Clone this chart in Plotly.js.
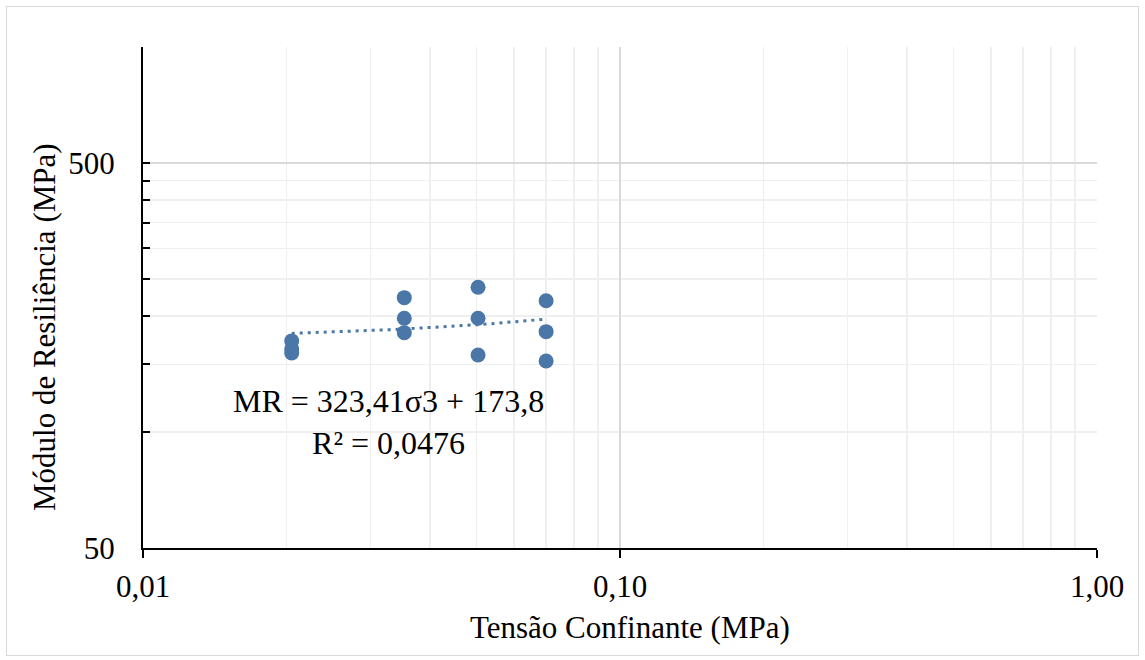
<!DOCTYPE html>
<html>
<head>
<meta charset="utf-8">
<script src="https://cdn.plot.ly/plotly-3.0.1.min.js"></script>
<style>
html,body{margin:0;padding:0;background:#fff;}
#chart{position:absolute;left:0;top:0;width:1145px;height:660px;}
#frame{position:absolute;left:6px;top:6px;width:1131px;height:648px;border:1px solid #d9d9d9;pointer-events:none;}
</style>
</head>
<body>
<div id="chart"></div>
<div id="frame"></div>
<script>
// Confining stress (MPa) and resilient modulus (MPa)
const sigma3 = [0.0205, 0.0205, 0.0205, 0.0353, 0.0353, 0.0353, 0.0504, 0.0504, 0.0504, 0.0700, 0.0700, 0.0700];
const modulus = [172.5, 164.4, 160.5, 223.4, 197.5, 181.2, 237.8, 197.5, 158.6, 219.4, 182.3, 153.0];
// Linear trendline coefficients (from the chart's label)
const trendSlope = 323.41;
const trendIntercept = 173.8;
const equationText = 'MR = 323,41σ3 + 173,8<br>R² = 0,0476';
const xTitle = 'Tensão Confinante (MPa)';
const yTitle = 'Módulo de Resiliência (MPa)';
const xTickVals = [0.01, 0.1, 1];
const xTickText = ['0,01', '0,10', '1,00'];
const xMinorVals = [0.02,0.03,0.04,0.05,0.06,0.07,0.08,0.09,0.2,0.3,0.4,0.5,0.6,0.7,0.8,0.9];
const yTickVals = [50, 500];
const yTickText = ['50', '500'];
const yMinorVals = [100,150,200,250,300,350,400,450,1000];

const blue = '#4a77a8';
const xmin = Math.min(...sigma3), xmax = Math.max(...sigma3);
const tx = [], ty = [];
const n = 30;
for (let i = 0; i <= n; i++) {
  const lx = Math.log10(xmin) + (Math.log10(xmax) - Math.log10(xmin)) * i / n;
  const x = Math.pow(10, lx);
  tx.push(x); ty.push(trendSlope * x + trendIntercept);
}

const font = '"Liberation Serif", serif';
const data = [
  {x: tx, y: ty, type: 'scatter', mode: 'lines', line: {color: blue, width: 3, dash: '3px,5px'}, hoverinfo: 'skip'},
  {x: sigma3, y: modulus, type: 'scatter', mode: 'markers', marker: {color: blue, size: 15}}
];
const layout = {
  width: 1145, height: 660,
  margin: {l: 143, r: 48, t: 47, b: 112},
  paper_bgcolor: '#fff', plot_bgcolor: '#fff',
  showlegend: false,
  font: {family: font, color: '#000', size: 31},
  xaxis: {
    type: 'log', range: [-2, 0], automargin: false,
    tickmode: 'array', tickvals: xTickVals, ticktext: xTickText,
    ticks: 'outside', ticklen: 8, tickwidth: 2, tickcolor: '#000',
    showline: true, linecolor: '#000', linewidth: 2,
    showgrid: true, gridcolor: '#d9d9d9', gridwidth: 1.5,
    zeroline: false,
    tickfont: {family: font, size: 31, color: '#000'},
    ticklabelstandoff: 2,
    minor: {tickmode: 'array', tickvals: xMinorVals, showgrid: true, gridcolor: '#efefef', gridwidth: 1.5, ticks: ''}
  },
  yaxis: {
    type: 'log', range: [Math.log10(50), 3], automargin: false,
    tickmode: 'array', tickvals: yTickVals, ticktext: yTickText,
    ticks: 'inside', ticklen: 7, tickwidth: 2, tickcolor: '#000',
    showline: true, linecolor: '#000', linewidth: 2,
    showgrid: true, gridcolor: '#d9d9d9', gridwidth: 1.5,
    zeroline: false,
    tickfont: {family: font, size: 31, color: '#000'},
    ticklabelstandoff: 20,
    minor: {tickmode: 'array', tickvals: yMinorVals, showgrid: true, gridcolor: '#efefef', gridwidth: 1.5, ticks: 'inside', ticklen: 7, tickwidth: 2, tickcolor: '#000'}
  },
  annotations: [
    {
      xref: 'paper', yref: 'paper', x: 0.257, y: 0.252,
      xanchor: 'center', yanchor: 'middle', align: 'center',
      text: equationText, showarrow: false,
      font: {family: font, size: 32, color: '#000'}
    },
    {
      xref: 'paper', yref: 'paper', x: 0.5105, y: -0.158,
      xanchor: 'center', yanchor: 'middle',
      text: xTitle, showarrow: false,
      font: {family: font, size: 31, color: '#000'}
    },
    {
      xref: 'paper', yref: 'paper', x: -0.1038, y: 0.441,
      xanchor: 'center', yanchor: 'middle', textangle: -90,
      text: yTitle, showarrow: false,
      font: {family: font, size: 31, color: '#000'}
    }
  ]
};
Plotly.newPlot('chart', data, layout, {displayModeBar: false, staticPlot: true});
</script>
</body>
</html>
